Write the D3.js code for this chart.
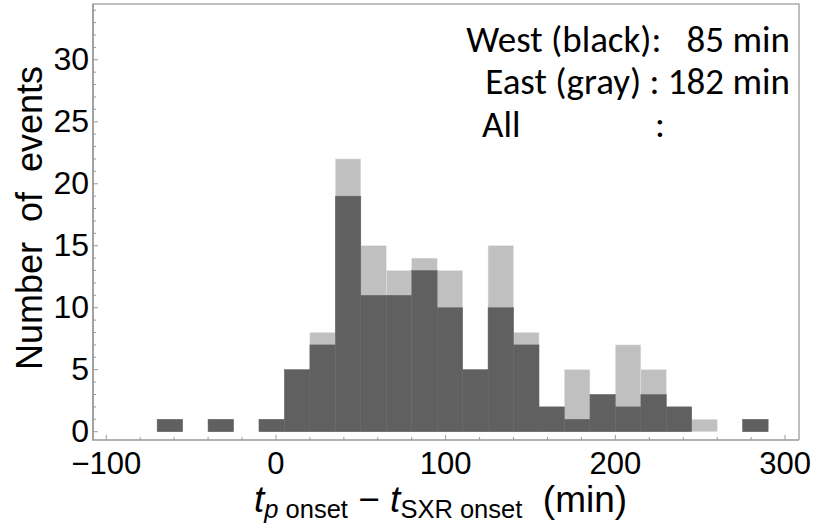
<!DOCTYPE html>
<html>
<head>
<meta charset="utf-8">
<script src="https://cdn.jsdelivr.net/npm/d3@7"></script>
<style>
  body { margin: 0; background: #fff; }
  svg { display: block; }
</style>
</head>
<body>
<div id="graph"></div>
<script>
// histogram bins (min), 15 min wide
var binStarts = [-70, -55, -40, -25, -10, 5, 20, 35, 50, 65, 80, 95, 110, 125, 140, 155, 170, 185, 200, 215, 230, 245, 260, 275];
var binWidth = 15;
// west (black) and east (gray) counts per bin, east is stacked on top of west
var westCounts = [1, 0, 1, 0, 1, 5, 7, 19, 11, 11, 13, 10, 5, 10, 7, 2, 1, 3, 2, 3, 2, 0, 0, 1];
var eastCounts = [0, 0, 0, 0, 0, 0, 1, 3, 4, 2, 1, 3, 0, 5, 1, 0, 4, 0, 5, 2, 0, 1, 0, 0];
var xTicks = [-100, 0, 100, 200, 300];
var yTicks = [0, 5, 10, 15, 20, 25, 30];
var legendLines = ["West (black):   85 min", "East (gray) : 182 min"];

drawChart();

function drawChart() {
	var width = 817, height = 532;
	var pLeft = 93, pRight = 799, pTop = 4, pBottom = 440;

	var x = d3.scaleLinear().domain([-107.8, 308.2]).range([pLeft, pRight]);
	var y = d3.scaleLinear().domain([-0.67, 34.5]).range([pBottom, pTop]);

	var vis = d3.select("#graph")
		.append("svg")
		.attr("width", width)
		.attr("height", height);

	var bins = binStarts.map(function (s, i) {
		return { s: s, w: westCounts[i], t: westCounts[i] + eastCounts[i] };
	});

	// total (gray) first, west (dark) on top
	vis.selectAll(".tot")
		.data(bins.filter(function (d) { return d.t > 0; }))
		.enter()
		.append("rect")
		.attr("class", "tot")
		.attr("x", function (d) { return x(d.s); })
		.attr("width", function (d) { return x(d.s + binWidth) - x(d.s); })
		.attr("y", function (d) { return y(d.t); })
		.attr("height", function (d) { return y(0) - y(d.t); })
		.attr("fill", "#c0c0c0")
		.attr("stroke", "#e4e4e4")
		.attr("stroke-width", 0.5);

	vis.selectAll(".west")
		.data(bins.filter(function (d) { return d.w > 0; }))
		.enter()
		.append("rect")
		.attr("class", "west")
		.attr("x", function (d) { return x(d.s); })
		.attr("width", function (d) { return x(d.s + binWidth) - x(d.s); })
		.attr("y", function (d) { return y(d.w); })
		.attr("height", function (d) { return y(0) - y(d.w); })
		.attr("fill", "#606060")
		.attr("stroke", "#666")
		.attr("stroke-width", 0.5);

	// frame: left/bottom a bit darker than top/right
	vis.append("path")
		.attr("d", "M" + pLeft + "," + pBottom + "V" + pTop + "H" + pRight + "V" + pBottom)
		.attr("fill", "none")
		.attr("stroke", "#aaa")
		.attr("stroke-width", 1.5);
	vis.append("path")
		.attr("d", "M" + pLeft + "," + pTop + "V" + pBottom + "H" + pRight)
		.attr("fill", "none")
		.attr("stroke", "#999")
		.attr("stroke-width", 1.5);

	// ticks (inside)
	var xMinor = d3.range(-100, 301, 20);
	vis.selectAll(".xt")
		.data(xMinor)
		.enter()
		.append("line")
		.attr("x1", function (d) { return x(d); })
		.attr("x2", function (d) { return x(d); })
		.attr("y1", pBottom)
		.attr("y2", function (d) { return xTicks.indexOf(d) >= 0 ? pBottom - 5 : pBottom - 3; })
		.attr("stroke", "#999")
		.attr("stroke-width", 1);

	var yMinor = d3.range(0, 35, 1);
	vis.selectAll(".yt")
		.data(yMinor)
		.enter()
		.append("line")
		.attr("x1", pLeft)
		.attr("x2", function (d) { return yTicks.indexOf(d) >= 0 ? pLeft + 5 : pLeft + 3; })
		.attr("y1", function (d) { return y(d); })
		.attr("y2", function (d) { return y(d); })
		.attr("stroke", "#999")
		.attr("stroke-width", 1);

	var tickFont = "Liberation Sans, Arial, sans-serif";

	vis.selectAll(".xl")
		.data(xTicks)
		.enter()
		.append("text")
		.attr("x", function (d) { return x(d); })
		.attr("y", 474)
		.attr("text-anchor", "middle")
		.attr("font-family", tickFont)
		.attr("font-size", 31)
		.text(function (d) { return d < 0 ? "\u2212" + Math.abs(d) : d; });

	vis.selectAll(".yl")
		.data(yTicks)
		.enter()
		.append("text")
		.attr("x", 89)
		.attr("y", function (d) { return y(d) + 10.5; })
		.attr("text-anchor", "end")
		.attr("font-family", tickFont)
		.attr("font-size", 32)
		.text(function (d) { return d; });

	// y title
	vis.append("text")
		.attr("transform", "translate(42,218) rotate(-90)")
		.attr("text-anchor", "middle")
		.attr("font-family", tickFont)
		.attr("font-size", 36)
		.style("white-space", "pre")
		.text("Number  of  events");

	// x title
	var xt = vis.append("text")
		.attr("x", 254)
		.attr("y", 512)
		.attr("font-family", tickFont)
		.style("white-space", "pre");
	xt.append("tspan").attr("font-size", 37).attr("font-style", "italic").text("t");
	xt.append("tspan").attr("font-size", 25.5).attr("dy", 6).attr("font-style", "italic").text("p");
	xt.append("tspan").attr("font-size", 25.5).text(" onset");
	xt.append("tspan").attr("font-size", 37).attr("dy", -6).text(" \u2212 ");
	xt.append("tspan").attr("font-size", 37).attr("font-style", "italic").text("t");
	xt.append("tspan").attr("font-size", 25.5).attr("dy", 6).text("SXR onset");
	xt.append("tspan").attr("font-size", 37).attr("dy", -6).text("  (min)");

	// legend text
	var legFont = "Carlito, Lato, 'Open Sans', sans-serif";
	var l1 = vis.append("text")
		.attr("x", 790).attr("y", 52)
		.attr("text-anchor", "end")
		.attr("font-family", legFont)
		.attr("font-size", 31)
		.style("white-space", "pre")
		.text(legendLines[0]);
	var w1 = l1.node().getComputedTextLength();
	var fs = 31 * 324 / w1;
	l1.attr("font-size", fs);

	vis.append("text")
		.attr("x", 790).attr("y", 94)
		.attr("text-anchor", "end")
		.attr("font-family", legFont)
		.attr("font-size", fs)
		.style("white-space", "pre")
		.text(legendLines[1]);

	vis.append("text")
		.attr("x", 482).attr("y", 137)
		.attr("font-family", legFont)
		.attr("font-size", fs)
		.text("All");

	vis.append("text")
		.attr("x", 660).attr("y", 137)
		.attr("text-anchor", "middle")
		.attr("font-family", legFont)
		.attr("font-size", fs)
		.text(":");
}
</script>
</body>
</html>
